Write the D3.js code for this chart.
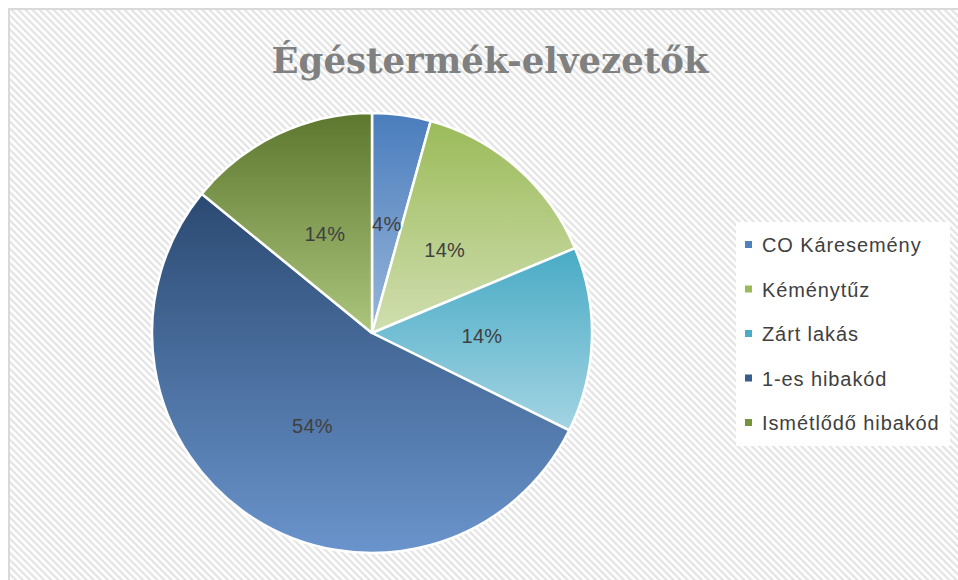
<!DOCTYPE html>
<html>
<head>
<meta charset="utf-8">
<script src="https://cdn.jsdelivr.net/npm/d3@7"></script>
<style>
  body { margin: 0; background: #fff; }
  svg { display: block; }
</style>
</head>
<body>
<div id="chart"></div>
<script>
// Chart data
const title = "Égéstermék-elvezetők";
const categories = ["CO Káresemény", "Kéménytűz", "Zárt lakás", "1-es hibakód", "Ismétlődő hibakód"];
const values = [4.3, 14.4, 13.6, 53.6, 14.1];
const topColors = ["#4a7dbd", "#9bbb59", "#48abc5", "#2b4a72", "#5d772f"];
const bottomColors = ["#98b6da", "#d0deb0", "#a3d4e3", "#6a94cc", "#abc57c"];
const legendColors = ["#4f81bd", "#9bbb59", "#4bacc6", "#385d8a", "#77933c"];

const width = 958, height = 580;
const cx = 372, cy = 333, radius = 220;

const svg = d3.select("#chart").append("svg")
  .attr("width", width)
  .attr("height", height);

const defs = svg.append("defs");

// Diagonal stripe background (lines running down to the right)
const pat = defs.append("pattern")
  .attr("id", "stripes")
  .attr("patternUnits", "userSpaceOnUse")
  .attr("width", 5).attr("height", 5)
  .attr("patternTransform", "rotate(-45)");
pat.append("rect").attr("width", 5).attr("height", 5).attr("fill", "#ffffff");
pat.append("rect").attr("width", 2.2).attr("height", 5).attr("fill", "#e3e3e3");

// Per-slice vertical gradients (dark top, light bottom)
categories.forEach((c, i) => {
  const g = defs.append("linearGradient")
    .attr("id", "grad" + i)
    .attr("x1", 0).attr("y1", 0).attr("x2", 0).attr("y2", 1);
  g.append("stop").attr("offset", "0%").attr("stop-color", topColors[i]);
  g.append("stop").attr("offset", "100%").attr("stop-color", bottomColors[i]);
});

// Chart area with border (right and bottom edges fall outside the view)
svg.append("rect")
  .attr("x", 9).attr("y", 9)
  .attr("width", width + 10).attr("height", height + 10)
  .attr("fill", "url(#stripes)")
  .attr("stroke", "#d9d9d9")
  .attr("stroke-width", 2);

// Title
svg.append("text")
  .attr("x", 490)
  .attr("y", 73)
  .attr("text-anchor", "middle")
  .attr("font-family", "'DejaVu Serif', serif")
  .attr("font-weight", "bold")
  .attr("font-size", "35.5px")
  .attr("fill", "#808080")
  .text(title);

// Pie
const pie = d3.pie().sort(null).value(d => d);
const arc = d3.arc().innerRadius(0).outerRadius(radius);
const arcs = pie(values);

const g = svg.append("g").attr("transform", `translate(${cx},${cy})`);

g.selectAll("path.slice")
  .data(arcs)
  .join("path")
  .attr("class", "slice")
  .attr("d", arc)
  .attr("fill", (d, i) => `url(#grad${i})`)
  .attr("stroke", "#ffffff")
  .attr("stroke-width", 2.5)
  .attr("stroke-linejoin", "round");

const total = d3.sum(values);
g.selectAll("text.label")
  .data(arcs)
  .join("text")
  .attr("class", "label")
  .attr("transform", d => `translate(${arc.centroid(d)})`)
  .attr("text-anchor", "middle")
  .attr("dominant-baseline", "central")
  .attr("font-family", "'Liberation Sans', sans-serif")
  .attr("font-size", "20px")
  .attr("letter-spacing", "0.3px")
  .attr("fill", "#404040")
  .text(d => Math.round(d.data / total * 100) + "%");

// Legend
const legend = svg.append("g");
legend.append("rect")
  .attr("x", 736).attr("y", 222)
  .attr("width", 214).attr("height", 224)
  .attr("fill", "#ffffff");

const ly = d3.scalePoint().domain(categories).range([245, 423]);

const items = legend.selectAll("g.item")
  .data(categories)
  .join("g")
  .attr("class", "item")
  .attr("transform", d => `translate(0,${ly(d)})`);

items.append("rect")
  .attr("x", 745).attr("y", -4)
  .attr("width", 7).attr("height", 7)
  .attr("fill", (d, i) => legendColors[i]);

items.append("text")
  .attr("x", 762)
  .attr("dominant-baseline", "central")
  .attr("font-family", "'Liberation Sans', sans-serif")
  .attr("font-size", "20px")
  .attr("letter-spacing", "0.9px")
  .attr("fill", "#404040")
  .text(d => d);
</script>
</body>
</html>
